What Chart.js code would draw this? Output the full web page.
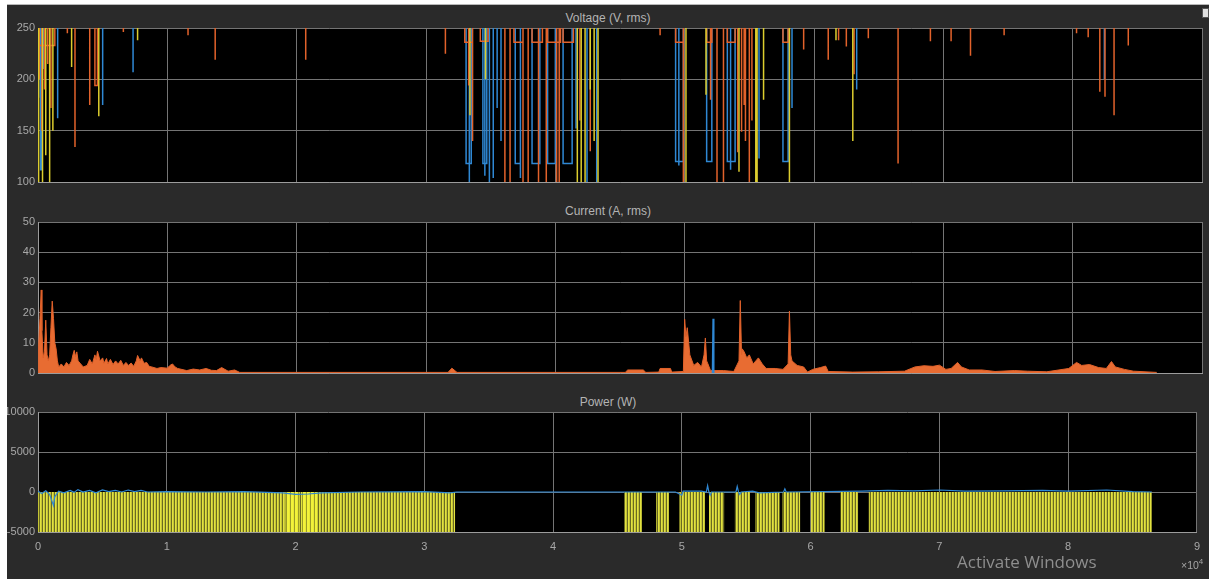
<!DOCTYPE html>
<html>
<head>
<meta charset="utf-8">
<script src="https://cdn.jsdelivr.net/npm/chart.js@4.4.1/dist/chart.umd.min.js"></script>
<style>
  html, body { margin: 0; padding: 0; background: #ffffff; }
  body { width: 1209px; height: 579px; position: relative; overflow: hidden; font-family: "Liberation Sans", Arial, sans-serif; }
  #scope { position: absolute; left: 7px; top: 4px; right: 0; bottom: 0; background: #2a2a2a; border-top: 1px solid #b8b8b8; }
  canvas { position: absolute; left: 7px; }
  .title { position: absolute; left: 7px; width: 1202px; text-align: center; color: #b4b4b4; font-size: 12px; line-height: 14px; }
  #exp { position: absolute; left: 1181px; top: 557px; color: #a6a6a6; font-size: 10.5px; }
  #exp sup { font-size: 8px; }
  #watermark { position: absolute; left: 957px; top: 550px; color: #8e8e8e; font-family: "Open Sans", sans-serif; font-size: 17px; }
  #undock { position: absolute; left: 1202px; top: 8px; width: 5px; height: 8px; background: #e0e0e0; border: 1px solid #555; }
</style>
</head>
<body>
<div id="scope"></div>
<div class="title" style="top:11px">Voltage (V, rms)</div>
<div class="title" style="top:204px">Current (A, rms)</div>
<div class="title" style="top:395px">Power (W)</div>
<canvas id="voltChart" width="1202" height="174" style="top:18px"></canvas>
<canvas id="currChart" width="1202" height="171" style="top:212px"></canvas>
<canvas id="powerChart" width="1202" height="163" style="top:402px"></canvas>
<div id="exp">&times;10<sup>4</sup></div>
<div id="watermark">Activate Windows</div>
<div id="undock"></div>
<script>
	// x axis is samples in units of 10^4 (0 .. 9)
	const xMax = 9;

	// ****** Voltage (V, rms) ******
	// each dip: [start, end, lowest value]; the signal rests above the top of the axis
	const voltTop = 262;
	const voltBlueDips = [
		[0.0, 0.006, 182], [0.02, 0.028, 112], [0.045, 0.045, 210], [0.152, 0.152, 162],
		[0.50, 0.50, 175], [0.735, 0.735, 207],
		[3.31, 3.35, 118], [3.335, 3.335, 100],
		[3.44, 3.47, 118], [3.455, 3.455, 106],
		[3.49, 3.49, 100], [3.52, 3.52, 104], [3.55, 3.55, 172], [3.58, 3.58, 140],
		[3.69, 3.73, 118], [3.73, 3.73, 104],
		[3.82, 3.88, 118],
		[3.94, 4.00, 118],
		[4.06, 4.13, 118],
		[4.16, 4.16, 152], [4.245, 4.245, 100], [4.32, 4.32, 100],
		[4.93, 4.99, 120], [4.955, 4.955, 116],
		[5.17, 5.21, 120],
		[5.33, 5.39, 120], [5.355, 5.355, 112],
		[5.575, 5.575, 123],
		[5.76, 5.80, 120], [5.83, 5.83, 172],
		[6.33, 6.33, 190], [8.245, 8.245, 200]
	];
	const voltOrangeDips = [
		[0.0, 0.13, 233],
		[0.01, 0.01, 200], [0.03, 0.03, 150], [0.05, 0.05, 190], [0.075, 0.075, 215], [0.10, 0.10, 172],
		[0.227, 0.227, 245], [0.286, 0.286, 134], [0.40, 0.40, 175], [0.44, 0.46, 194],
		[0.66, 0.66, 246], [1.16, 1.16, 243], [1.37, 1.37, 219], [2.07, 2.07, 219], [3.15, 3.15, 225],
		[3.30, 3.36, 236], [3.33, 3.33, 194], [3.36, 3.36, 140],
		[3.42, 3.48, 237],
		[3.61, 3.61, 100], [3.65, 3.65, 100],
		[3.68, 3.75, 236], [3.75, 3.75, 100], [3.79, 3.79, 100],
		[3.82, 3.90, 236], [3.87, 3.87, 100], [3.93, 3.93, 100],
		[3.94, 4.04, 236], [4.01, 4.01, 100], [4.03, 4.03, 100],
		[4.06, 4.14, 236],
		[4.19, 4.19, 160], [4.27, 4.27, 130],
		[4.81, 4.81, 243],
		[4.93, 4.99, 236], [4.99, 4.99, 100],
		[5.17, 5.21, 236], [5.20, 5.20, 180],
		[5.25, 5.25, 100], [5.30, 5.30, 100],
		[5.33, 5.39, 236],
		[5.41, 5.41, 129], [5.44, 5.44, 149], [5.46, 5.46, 175], [5.47, 5.47, 140], [5.50, 5.50, 100], [5.52, 5.52, 160],
		[5.76, 5.80, 236],
		[5.92, 5.92, 229], [6.11, 6.11, 219], [6.19, 6.19, 238], [6.25, 6.25, 232], [6.31, 6.31, 205], [6.42, 6.42, 240],
		[6.65, 6.65, 118], [6.90, 6.90, 237], [7.06, 7.06, 237], [7.21, 7.21, 223], [7.47, 7.47, 243],
		[8.03, 8.03, 245], [8.12, 8.12, 241], [8.21, 8.21, 188], [8.25, 8.25, 183], [8.32, 8.32, 165], [8.43, 8.43, 233]
	];
	const voltYellowDips = [
		[0.005, 0.005, 100], [0.035, 0.035, 100], [0.06, 0.06, 126], [0.09, 0.09, 100], [0.115, 0.115, 150],
		[0.26, 0.26, 212], [0.47, 0.47, 164], [0.77, 0.77, 238],
		[3.34, 3.34, 165], [3.46, 3.46, 200],
		[4.17, 4.17, 100], [4.20, 4.20, 100], [4.23, 4.23, 100], [4.27, 4.27, 190], [4.30, 4.30, 140], [4.33, 4.33, 100],
		[5.01, 5.01, 100], [5.165, 5.165, 185], [5.42, 5.42, 110], [5.55, 5.55, 100], [5.56, 5.56, 100], [5.61, 5.61, 180], [5.81, 5.81, 100],
		[6.17, 6.17, 238], [6.30, 6.30, 140]
	];

	// ****** Current (A, rms) ******
	const currentX = [
		0, 0.005, 0.015, 0.025, 0.03, 0.04, 0.05, 0.06, 0.07, 0.08, 0.09, 0.10, 0.11, 0.12, 0.13, 0.14, 0.15, 0.16,
		0.18, 0.2, 0.22, 0.24, 0.26, 0.27, 0.28, 0.29, 0.30, 0.31, 0.33, 0.35, 0.38, 0.40, 0.42, 0.44, 0.45, 0.46, 0.48,
		0.50, 0.51, 0.53, 0.54, 0.56, 0.58, 0.60, 0.62, 0.64, 0.66, 0.68, 0.70, 0.72, 0.74, 0.76,
		0.77, 0.79, 0.80, 0.82, 0.84, 0.86, 0.88, 0.92, 0.95, 1.0, 1.02, 1.04, 1.06, 1.08, 1.15, 1.2, 1.25, 1.3, 1.34, 1.38, 1.42, 1.47, 1.52, 1.56,
		3.17, 3.2, 3.24, 4.54, 4.56, 4.68, 4.70, 4.80, 4.81, 4.89, 4.90,
		4.99, 5.0, 5.01, 5.02, 5.04, 5.07, 5.1, 5.13, 5.15, 5.16, 5.17, 5.18, 5.20, 5.3, 5.38, 5.42, 5.43, 5.44, 5.445, 5.46, 5.48, 5.5, 5.53,
		5.57, 5.6, 5.63, 5.7, 5.76, 5.80, 5.81, 5.82, 5.83, 5.87, 5.92, 5.95, 5.99, 6.05, 6.09, 6.11,
		6.3, 6.5, 6.7, 6.78, 6.85, 6.92, 6.97, 7.02, 7.06, 7.11, 7.14, 7.2, 7.3, 7.4, 7.55, 7.65, 7.8,
		7.97, 8.03, 8.07, 8.13, 8.2, 8.26, 8.3, 8.33, 8.4, 8.47, 8.65
	];
	const currentY = [
		0, 9, 18, 27.5, 14, 5, 7, 17.5, 6, 4, 6, 15, 23.8, 18, 10, 8, 4, 2,
		3, 2, 3.5, 2.5, 4, 6, 7.5, 5.5, 7, 4, 3, 2, 2.5, 4.5, 3, 6, 4.5, 7.2, 4,
		5, 3.2, 4.8, 3, 4.5, 2.8, 4, 3, 4.2, 2.5, 3.5, 2.5, 3.3, 2.2, 4,
		5.8, 4, 5, 3.2, 3.5, 2.2, 2, 1.5, 1.8, 1.6, 2.5, 3, 2, 1.5, 0.8, 1.3, 1.0, 1.5, 0.9, 0.8, 1.8, 0.6, 1.0, 0.2,
		0.2, 1.6, 0.2, 0.2, 1.0, 1.0, 0.2, 0.3, 1.5, 1.5, 0.3,
		0.5, 17.8, 12, 15, 6, 2.5, 3.5, 2, 6, 11.6, 4, 3, 0.8, 0.8, 0.5, 4, 24, 6, 8, 7, 5, 6, 3,
		5, 3, 1.5, 1.5, 1.2, 3, 20.5, 6, 4, 2.5, 2, 0.3, 1.2, 1.8, 2.3, 0.5,
		0.3, 0.4, 0.6, 2, 2.4, 2.2, 2.6, 1.2, 1.5, 3.5, 2, 1, 1, 0.5, 0.8, 0.6, 0.4,
		1.5, 3.5, 2.5, 2.8, 1.8, 1.5, 3.8, 2, 1.2, 0.6, 0.2
	];
	const currentBlueX = [5.215, 5.22, 5.225];
	const currentBlueY = [0, 18, 0];

	// ****** Power (W) ******
	// yellow blocks: [start, end], they fill 0 down to -5000
	const powerYellowSegs = [
		[0, 3.24], [4.55, 4.69], [4.80, 4.90], [4.98, 5.18], [5.21, 5.33], [5.41, 5.53],
		[5.57, 5.76], [5.78, 5.92], [6.0, 6.11], [6.23, 6.37], [6.45, 8.65]
	];
	const powerBrightSegs = [[1.92, 2.03], [2.05, 2.17]];
	const powerLineX = [
		0, 0.03, 0.06, 0.09, 0.11, 0.12, 0.13, 0.16, 0.2, 0.25, 0.28, 0.31, 0.35, 0.4, 0.45, 0.5, 0.55, 0.6, 0.65,
		0.7, 0.75, 0.8, 0.85, 1.0, 1.3, 1.6, 1.9, 2.0, 2.1, 2.2, 2.5, 3.0, 3.2, 3.25, 4.55, 4.95, 5.0, 5.01,
		5.15, 5.19, 5.2, 5.21, 5.22, 5.23, 5.3, 5.42, 5.43, 5.44, 5.45, 5.46, 5.55, 5.6, 5.79, 5.8, 5.81, 6.4, 6.6, 6.8,
		7.0, 7.2, 7.5, 7.8, 8.0, 8.3, 8.5, 8.65
	];
	const powerLineY = [
		100, -200, 150, -300, -1200, -1700, -600, 100, -100, 200, -50, 300, 0, 200, -100, 250, 50, 200, 0,
		250, 50, 200, 0, 50, 0, 50, -100, -300, -250, -100, 0, 50, -100, 0, 0, 0, -400, 100,
		100, 0, 800, 0, -400, 0, 0, 0, 700, 0, -300, 0, 100, -100, 0, 400, 0, 100, 200, 150,
		250, 100, 150, 200, 100, 250, 50, 0
	];

	// colours
	const blue = '#2f88d4';
	const orange = '#e2622b';
	const yellow = '#dccd2e';
	const gridColor = '#747474';
	const borderColor = '#9c9c9c';
	const textColor = '#a8a8a8';

	// turn dips into line points: drop from the top, hold, come back up
	function dipsToPoints(dips) {
		let pts = [];
		dips.forEach(function (d) {
			pts.push({ x: d[0], y: voltTop }, { x: d[0], y: d[2] }, { x: d[1], y: d[2] }, { x: d[1], y: voltTop });
		});
		return pts;
	}

	function zip(xs, ys) {
		return xs.map(function (x, i) { return { x: x, y: ys[i] }; });
	}

	// blocks at 0, with a gap (null) after each so the fill stops between them
	function segsToPoints(segs) {
		let pts = [];
		segs.forEach(function (s) {
			pts.push({ x: s[0], y: 0 }, { x: s[1], y: 0 }, { x: s[1], y: null });
		});
		return pts;
	}

	// yellow with thin dark stripes like the dense scope trace
	function stripes(cols) {
		const c = document.createElement('canvas');
		c.width = cols.length;
		c.height = 1;
		const g = c.getContext('2d');
		cols.forEach(function (col, i) {
			g.fillStyle = col;
			g.fillRect(i, 0, 1, 1);
		});
		return g.createPattern(c, 'repeat');
	}

	// black plot area
	const plotBg = {
		id: 'plotBg',
		beforeDraw: function (chart) {
			const a = chart.chartArea;
			chart.ctx.save();
			chart.ctx.fillStyle = '#000000';
			chart.ctx.fillRect(a.left, a.top, a.right - a.left, a.bottom - a.top);
			chart.ctx.restore();
		}
	};

	function scopeOptions(yMin, yMax, yStep, showX) {
		return {
			responsive: false,
			animation: false,
			devicePixelRatio: 1,
			layout: { padding: { top: 10, right: 7, bottom: showX ? 4 : 10, left: 0 } },
			plugins: { legend: { display: false }, tooltip: { enabled: false } },
			elements: { point: { radius: 0 }, line: { tension: 0 } },
			scales: {
				x: {
					type: 'linear', min: 0, max: xMax,
					ticks: {
						display: showX, stepSize: 1, color: textColor, padding: 9, maxRotation: 0,
						font: { family: 'Liberation Sans', size: 11, lineHeight: 1 },
						callback: function (v) { return String(v); }
					},
					grid: { color: gridColor, drawTicks: false },
					border: { color: borderColor }
				},
				y: {
					min: yMin, max: yMax,
					ticks: {
						stepSize: yStep, color: textColor, padding: 3,
						font: { family: 'Liberation Sans', size: 11 },
						callback: function (v) { return String(v); }
					},
					grid: { color: gridColor, drawTicks: false },
					border: { color: borderColor },
					afterFit: function (scale) { scale.width = 31; }
				}
			}
		};
	}

	// Voltage chart
	new Chart(document.getElementById('voltChart'), {
		type: 'line',
		data: {
			datasets: [
				{ data: dipsToPoints(voltBlueDips), borderColor: blue, borderWidth: 1.5, order: 3 },
				{ data: dipsToPoints(voltOrangeDips), borderColor: orange, borderWidth: 1.5, order: 2 },
				{ data: dipsToPoints(voltYellowDips), borderColor: yellow, borderWidth: 1.5, order: 1 }
			]
		},
		options: scopeOptions(100, 250, 50, false),
		plugins: [plotBg]
	});

	// Current chart
	new Chart(document.getElementById('currChart'), {
		type: 'line',
		data: {
			datasets: [
				{ data: zip(currentX, currentY), borderColor: orange, backgroundColor: '#e86c32', borderWidth: 1, fill: 'origin', order: 2 },
				{ data: zip(currentBlueX, currentBlueY), borderColor: blue, borderWidth: 1.5, order: 1 }
			]
		},
		options: scopeOptions(0, 50, 10, false),
		plugins: [plotBg]
	});

	// Power chart
	new Chart(document.getElementById('powerChart'), {
		type: 'line',
		data: {
			datasets: [
				{ data: zip(powerLineX, powerLineY), borderColor: blue, borderWidth: 1.2, order: 0 },
				{ data: segsToPoints(powerBrightSegs), borderWidth: 0, fill: { value: -5000 }, backgroundColor: stripes(['#f2f23a', '#f2f23a', '#e8e836', '#9a9a28']), order: 1 },
				{ data: segsToPoints(powerYellowSegs), borderWidth: 0, fill: { value: -5000 }, backgroundColor: stripes(['#e2e240', '#c4c436', '#6a6a22']), order: 2 }
			]
		},
		options: scopeOptions(-5000, 10000, 5000, true),
		plugins: [plotBg]
	});
</script>
</body>
</html>
